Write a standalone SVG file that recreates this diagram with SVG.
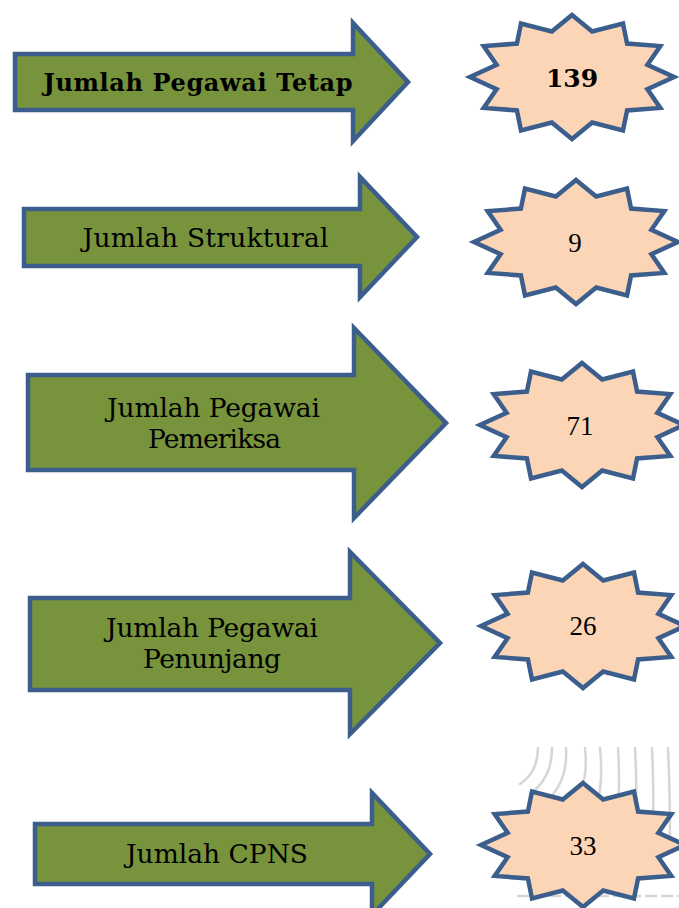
<svg xmlns="http://www.w3.org/2000/svg" width="679" height="908" viewBox="0 0 679 908">
<style>
.arrow{fill:#77933C;stroke:#3B5E8C;stroke-width:4.5;stroke-linejoin:miter;stroke-miterlimit:10}
.star{fill:#FBD5B5;stroke:#3B5E8C;stroke-width:4.5;stroke-linejoin:miter;stroke-miterlimit:10}
.lbl{font-family:"DejaVu Serif","Liberation Serif",serif;font-size:26.5px;fill:#000;text-anchor:middle}
.lblb{font-family:"DejaVu Serif","Liberation Serif",serif;font-size:24px;font-weight:bold;fill:#000;text-anchor:middle}
.num{font-family:"Liberation Serif","Times New Roman",serif;font-size:27px;fill:#000;text-anchor:middle}
.numb{font-family:"DejaVu Serif","Liberation Serif",serif;font-size:25px;font-weight:bold;fill:#000;text-anchor:middle}
.bg{fill:none;stroke:#d6d6d6;stroke-width:2.5;stroke-linecap:round}
</style>
<defs>
<path id="star12" d="M0,-62 L20.2,-45.5 L51,-53.4 L55.1,-33.4 L88.3,-30.9 L75.4,-12.2 L102,0 L75.4,12.2 L88.3,30.9 L55.1,33.4 L51,53.4 L20.2,45.5 L0,62 L-20.2,45.5 L-51,53.4 L-55.1,33.4 L-88.3,30.9 L-75.4,12.2 L-102,0 L-75.4,-12.2 L-88.3,-30.9 L-55.1,-33.4 L-51,-53.4 L-20.2,-45.5 Z"/>
</defs>
<rect width="679" height="908" fill="#fff"/>
<g id="background">
<path class="bg" d="M538,748 Q538,772 520,784"/>
<path class="bg" d="M552,748 Q552,778 530,794"/>
<path class="bg" d="M566,748 Q568,780 548,800"/>
<path class="bg" d="M585,748 Q588,776 580,790"/>
<path class="bg" d="M600,748 Q603,780 598,800"/>
<path class="bg" d="M618,748 Q620,785 618,810"/>
<path class="bg" d="M635,748 Q637,785 636,815"/>
<path class="bg" d="M652,748 Q654,790 653,830"/>
<path class="bg" d="M668,748 Q670,790 670,840"/>
<path class="bg" d="M518,896 H679" stroke-dasharray="10 6"/>
</g>
<g id="connectors"></g>
<g id="arrow1">
<path class="arrow" d="M15,54 H353 V23 L408,82 L353,141 V110 H15 Z"/>
<text class="lblb" x="198" y="91" textLength="309">Jumlah Pegawai Tetap</text>
</g>
<g id="star1">
<use href="#star12" class="star" transform="translate(572,77)"/>
<text class="numb" x="572" y="87">139</text>
</g>
<g id="arrow2">
<path class="arrow" d="M24,209 H360 V177 L417,237 L360,297 V266 H24 Z"/>
<text class="lbl" x="205.5" y="247" textLength="246">Jumlah Struktural</text>
</g>
<g id="star2">
<use href="#star12" class="star" transform="translate(576,242)"/>
<text class="num" x="575" y="252">9</text>
</g>
<g id="arrow3">
<path class="arrow" d="M28,375 H354 V328 L446,423 L354,518 V470 H28 Z"/>
<text class="lbl" x="213.5" y="417" textLength="213">Jumlah Pegawai</text>
<text class="lbl" x="214.5" y="448" textLength="133">Pemeriksa</text>
</g>
<g id="star3">
<use href="#star12" class="star" transform="translate(582,425)"/>
<text class="num" x="580" y="435">71</text>
</g>
<g id="arrow4">
<path class="arrow" d="M30,598 H350 V552 L440,643 L350,734 V690 H30 Z"/>
<text class="lbl" x="212" y="637" textLength="212">Jumlah Pegawai</text>
<text class="lbl" x="212" y="668" textLength="138">Penunjang</text>
</g>
<g id="star4">
<use href="#star12" class="star" transform="translate(583,626)"/>
<text class="num" x="583" y="635">26</text>
</g>
<g id="arrow5">
<path class="arrow" d="M35,824 H372 V793 L430,854 L372,915 V884 H35 Z"/>
<text class="lbl" x="217" y="863" textLength="182">Jumlah CPNS</text>
</g>
<g id="star5">
<use href="#star12" class="star" transform="translate(583,845)"/>
<text class="num" x="583" y="855">33</text>
</g>
</svg>
